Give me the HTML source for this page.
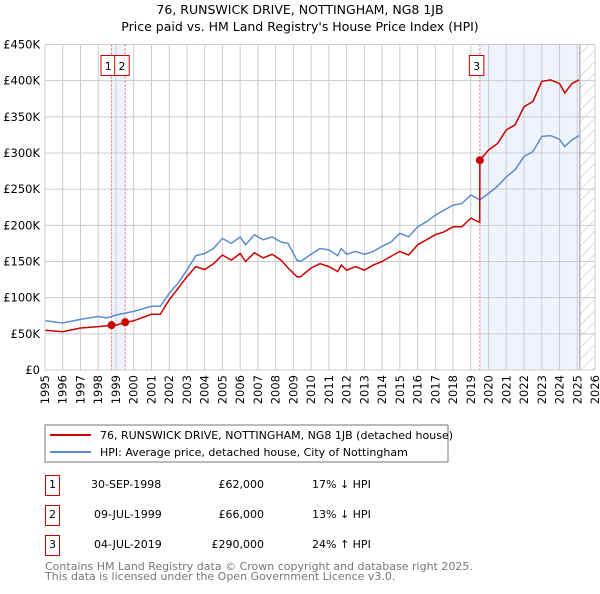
<!DOCTYPE html>
<html><head><meta charset="utf-8"><style>
body{margin:0;background:#fff;font-family:"DejaVu Sans","Liberation Sans",sans-serif;}
svg text{font-family:"DejaVu Sans","Liberation Sans",sans-serif;}
</style></head><body>
<svg id="chart" width="600" height="590" viewBox="0 0 600 590" xmlns="http://www.w3.org/2000/svg">
<defs><pattern id="hatch" width="8" height="8" patternUnits="userSpaceOnUse" patternTransform="rotate(45)"><line x1="0" y1="0" x2="0" y2="8" stroke="#bbb" stroke-width="1"/></pattern></defs>
<text x="300" y="14" text-anchor="middle" font-size="12.5">76, RUNSWICK DRIVE, NOTTINGHAM, NG8 1JB</text>
<text x="300" y="31" text-anchor="middle" font-size="12.5">Price paid vs. HM Land Registry's House Price Index (HPI)</text>
<g id="plot"></g>
<rect x="45" y="425" width="403" height="37" fill="#fff" stroke="#777"/>
<line x1="50" y1="435" x2="91" y2="435" stroke="#cc0000" stroke-width="2"/>
<text x="100" y="439" font-size="11">76, RUNSWICK DRIVE, NOTTINGHAM, NG8 1JB (detached house)</text>
<line x1="50" y1="452" x2="91" y2="452" stroke="#5b8bd0" stroke-width="2"/>
<text x="100" y="456" font-size="11">HPI: Average price, detached house, City of Nottingham</text>
<g font-size="11">
<rect x="45.5" y="475.5" width="14" height="20" fill="none" stroke="#cc0000"/><text x="52.5" y="488" text-anchor="middle">1</text>
<text x="91" y="488">30-SEP-1998</text><text x="264" y="488" text-anchor="end">£62,000</text><text x="312" y="488">17% ↓ HPI</text>
<rect x="45.5" y="505.5" width="14" height="20" fill="none" stroke="#cc0000"/><text x="52.5" y="518" text-anchor="middle">2</text>
<text x="94" y="518">09-JUL-1999</text><text x="264" y="518" text-anchor="end">£66,000</text><text x="312" y="518">13% ↓ HPI</text>
<rect x="45.5" y="535.5" width="14" height="20" fill="none" stroke="#cc0000"/><text x="52.5" y="548" text-anchor="middle">3</text>
<text x="94" y="548">04-JUL-2019</text><text x="264" y="548" text-anchor="end">£290,000</text><text x="312" y="548">24% ↑ HPI</text>
</g>
<text x="45" y="570" font-size="11" fill="#777">Contains HM Land Registry data © Crown copyright and database right 2025.</text>
<text x="45" y="580" font-size="11" fill="#777">This data is licensed under the Open Government Licence v3.0.</text>
</svg>
<script>
const hpiYears=[1995,1996,1997,1998,1998.5,1999,2000,2001,2001.5,2002,2002.5,2003,2003.5,2004,2004.5,2005,2005.5,2006,2006.3,2006.8,2007.3,2007.8,2008.3,2008.7,2009.2,2009.4,2010,2010.5,2011,2011.5,2011.7,2012,2012.5,2013,2013.5,2014,2014.5,2015,2015.5,2016,2016.5,2017,2017.5,2018,2018.5,2019,2019.5,2020,2020.5,2021,2021.5,2022,2022.5,2023,2023.5,2024,2024.3,2024.7,2025.1];
const hpiValues=[68,65,70,74,72,76,81,88,88,106,120,138,158,161,168,182,175,184,173,187,180,184,177,175,152,150,160,168,166,158,168,160,164,160,164,171,177,189,184,198,205,214,221,228,230,242,235,244,254,267,277,295,302,323,324,319,309,318,324];
const priceYears=[1995,1996,1997,1998,1998.75,1999,1999.52,2000,2001,2001.5,2002,2002.5,2003,2003.5,2004,2004.5,2005,2005.5,2006,2006.3,2006.8,2007.3,2007.8,2008.3,2008.7,2009.2,2009.4,2010,2010.5,2011,2011.5,2011.7,2012,2012.5,2013,2013.5,2014,2014.5,2015,2015.5,2016,2016.5,2017,2017.5,2018,2018.5,2019,2019.5,2019.51,2020,2020.5,2021,2021.5,2022,2022.5,2023,2023.5,2024,2024.3,2024.7,2025.1];
const priceValues=[55,53,58,60,62,62,66,68,77,77,97,113,129,143,139,147,159,152,161,150,162,155,160,152,141,129,129,141,147,143,136,145,138,143,138,145,150,157,164,159,173,180,187,191,198,198,210,204,290,304,313,332,339,364,371,399,401,396,383,396,401];
const saleYears=[1998.75,1999.52,2019.51];
const saleValues=[62,66,290];
const saleLabels=["1","2","3"];
const yTicks=[0,50,100,150,200,250,300,350,400,450];
const yTickLabels=["£0","£50K","£100K","£150K","£200K","£250K","£300K","£350K","£400K","£450K"];
const xTicks=[1995,1996,1997,1998,1999,2000,2001,2002,2003,2004,2005,2006,2007,2008,2009,2010,2011,2012,2013,2014,2015,2016,2017,2018,2019,2020,2021,2022,2023,2024,2025,2026];
const dataEnd=2025.15;

const X0=45,X1=595,Y0=370,Y1=44.5;
const xs=y=>X0+(y-1995)/(2026-1995)*(X1-X0);
const ys=v=>Y0-v/450*(Y0-Y1);
const NS="http://www.w3.org/2000/svg";
const g=document.getElementById('plot');
function mk(t,a,p){const e=document.createElementNS(NS,t);for(const k in a)e.setAttribute(k,a[k]);(p||g).appendChild(e);return e;}
let e;
e=mk('rect',{x:xs(saleYears[0]),y:Y1,width:xs(saleYears[1])-xs(saleYears[0]),height:Y0-Y1,fill:'#eef3fc'});


e=mk('rect',{x:xs(saleYears[2]),y:Y1,width:xs(dataEnd)-xs(saleYears[2]),height:Y0-Y1,fill:'#eef3fc'});


e=mk('rect',{x:xs(dataEnd),y:Y1,width:X1-xs(dataEnd),height:Y0-Y1,fill:'url(#hatch)'});


yTicks.forEach((t,i)=>{
 e=mk('line',{x1:X0,x2:X1,y1:ys(t),y2:ys(t),stroke:'#ccc','stroke-width':1});
 
 
 e=mk('text',{x:X0-5,y:ys(t)+4,'text-anchor':'end','font-size':'11.5'});e.textContent=yTickLabels[i];
 
 
});
xTicks.forEach(t=>{
 e=mk('line',{x1:xs(t),x2:xs(t),y1:Y1,y2:Y0,stroke:'#ccc','stroke-width':1});
 
 
 e=mk('text',{x:0,y:0,'text-anchor':'end','font-size':'11.5',transform:`translate(${xs(t)+4},375) rotate(-90)`});e.textContent=t;
 
 
});
e=mk('line',{x1:xs(dataEnd),x2:xs(dataEnd),y1:Y1,y2:Y0,stroke:'#999','stroke-width':1});


saleYears.forEach((s,i)=>{
 e=mk('line',{x1:xs(s),x2:xs(s),y1:Y1,y2:Y0,stroke:'#e66','stroke-width':1,'stroke-dasharray':'2,2'});
 
 
});
const pts=(a,b)=>a.map((y,i)=>xs(y).toFixed(1)+','+ys(b[i]).toFixed(1)).join(' ');
e=mk('polyline',{points:pts(hpiYears,hpiValues),fill:'none',stroke:'#5b8bd0','stroke-width':1.5});


e=mk('polyline',{points:pts(priceYears,priceValues),fill:'none',stroke:'#cc0000','stroke-width':1.5});


saleYears.forEach((s,i)=>{
 e=mk('circle',{cx:xs(s),cy:ys(saleValues[i]),r:4,fill:'#cc0000'});
 
 
 const bx=i===0?xs(s)-10.5:(i===1?xs(s)-10.5:xs(s)-10.5);
 e=mk('rect',{x:bx,y:55.5,width:14.5,height:20,fill:'#fff',stroke:'#cc0000','stroke-width':1});
 
 
 e=mk('text',{x:bx+7.25,y:70,'text-anchor':'middle','font-size':'11'});e.textContent=saleLabels[i];
 
 
});
e=mk('rect',{x:X0,y:Y1,width:X1-X0,height:Y0-Y1,fill:'none',stroke:'#ccc'});


</script>
</body></html>
